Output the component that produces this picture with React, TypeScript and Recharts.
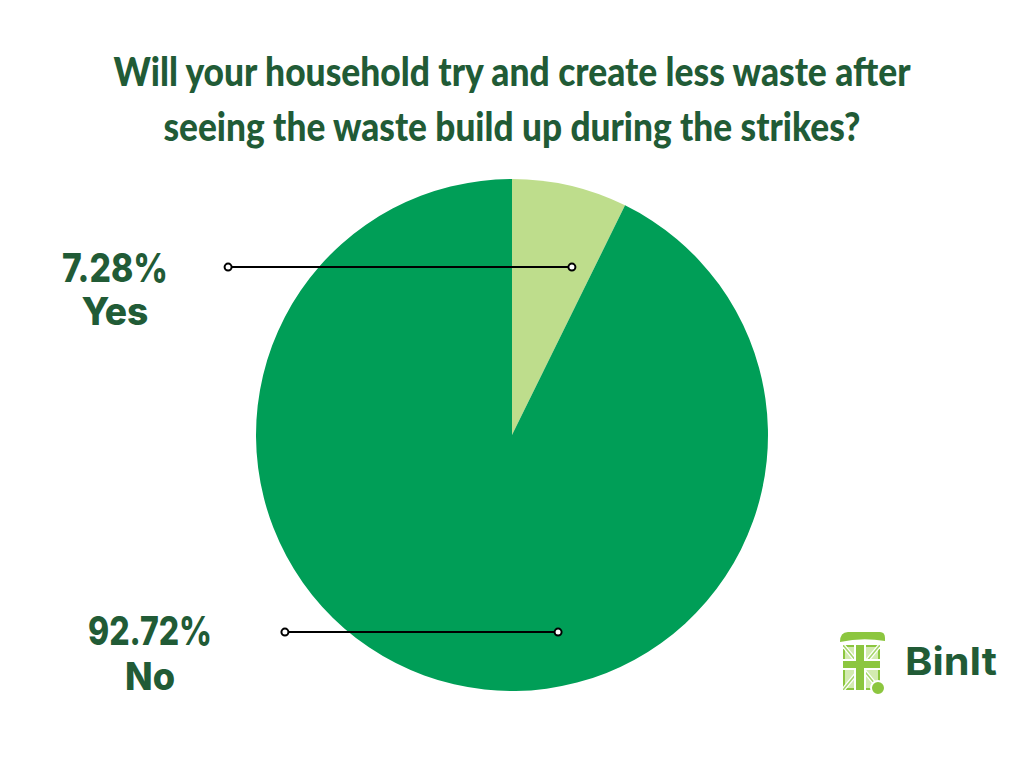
import React from 'react';
import { PieChart, Pie, Cell } from 'recharts';

const answers = ['Yes', 'No'];
const shares = [7.28, 92.72];
const sliceColors = ['#BEDD8C', '#009E57'];
const titleLines = [
  'Will your household try and create less waste after',
  'seeing the waste build up during the strikes?',
];

const TEXT_GREEN = '#215B36';
const LABEL_FONT = "Inter, 'Liberation Sans', Arial, sans-serif";

// where each callout sits, relative to pie centre in units of the radius
const callouts = [
  { tipX: 0.234, tipY: -0.656, startX: -1.109, textX: -1.551, pctW: 106, nameW: 67, base1: -153, base2: -110 },
  { tipX: 0.180, tipY: 0.770, startX: -0.887, textX: -1.414, pctW: 124, nameW: 50, base1: 210, base2: 255 },
];

const chartData = answers.map((name, i) => ({ name, value: shares[i] }));

const renderCallout = (props: any) => {
  const { cx, cy, outerRadius, index } = props;
  const c = callouts[index];
  const R = outerRadius;
  const y = cy + c.tipY * R;
  const x1 = cx + c.startX * R;
  const x2 = cx + c.tipX * R;
  const tx = cx + c.textX * R;
  return (
    <g key={`callout-${index}`}>
      <line x1={x1} y1={y} x2={x2} y2={y} stroke="#000" strokeWidth={2} />
      <circle cx={x1} cy={y} r={3.5} fill="#fff" stroke="#000" strokeWidth={2} />
      <circle cx={x2} cy={y} r={3.5} fill="#fff" stroke="#000" strokeWidth={2} />
      <text
        x={tx}
        y={cy + c.base1}
        textAnchor="middle"
        fill={TEXT_GREEN}
        fontFamily={LABEL_FONT}
        fontWeight={800}
        fontSize={39}
        textLength={c.pctW}
        lengthAdjust="spacingAndGlyphs"
      >
        {`${shares[index].toFixed(2)}%`}
      </text>
      <text
        x={tx}
        y={cy + c.base2}
        textAnchor="middle"
        fill={TEXT_GREEN}
        fontFamily={LABEL_FONT}
        fontWeight={800}
        fontSize={38}
        textLength={c.nameW}
        lengthAdjust="spacingAndGlyphs"
      >
        {answers[index]}
      </text>
    </g>
  );
};

function Logo() {
  return (
    <svg width={180} height={80} style={{ position: 'absolute', left: 830, top: 620 }}>
      <defs>
        <clipPath id="binBody">
          <rect x={13} y={25} width={37} height={45} />
        </clipPath>
      </defs>
      <path d="M10 22 Q10 12 18 12 L50 12 Q55 12 55 18 L55 21 Q32 17 10 22 Z" fill="#8CC63F" />
      <g clipPath="url(#binBody)">
        <rect x={13} y={25} width={37} height={45} fill="#8CC63F" />
        <rect x={15} y={27} width={33} height={41} fill="#D3EBB0" />
        <line x1={13} y1={25} x2={50} y2={70} stroke="#fff" strokeWidth={4} />
        <line x1={50} y1={25} x2={13} y2={70} stroke="#fff" strokeWidth={4} />
        <line x1={13} y1={25} x2={50} y2={70} stroke="#A6D66A" strokeWidth={1.5} />
        <line x1={50} y1={25} x2={13} y2={70} stroke="#A6D66A" strokeWidth={1.5} />
        <rect x={24} y={18} width={12} height={52} fill="#fff" />
        <rect x={13} y={39} width={37} height={11} fill="#fff" />
        <rect x={26} y={18} width={8} height={52} fill="#8CC63F" />
        <rect x={13} y={41} width={37} height={7} fill="#8CC63F" />
      </g>
      <circle cx={48} cy={68} r={7} fill="#8CC63F" stroke="#fff" strokeWidth={2} />
      <text
        x={75}
        y={55}
        fill={TEXT_GREEN}
        fontFamily={LABEL_FONT}
        fontWeight={700}
        fontSize={38}
        textLength={92}
        lengthAdjust="spacingAndGlyphs"
      >
        BinIt
      </text>
    </svg>
  );
}

export default function App() {
  return (
    <div style={{ position: 'fixed', left: 0, top: 0, width: 1024, height: 768, background: '#fff' }}>
      <svg width={1024} height={170} style={{ position: 'absolute', left: 0, top: 0 }}>
        {titleLines.map((line, i) => (
          <text
            key={i}
            x={512}
            y={86 + i * 55}
            textAnchor="middle"
            fill={TEXT_GREEN}
            fontFamily="Lato, sans-serif"
            fontWeight={900}
            fontSize={40}
            textLength={i === 0 ? 797 : 697}
            lengthAdjust="spacingAndGlyphs"
          >
            {line}
          </text>
        ))}
      </svg>
      <div style={{ position: 'absolute', left: 0, top: 0 }}>
        <PieChart width={1024} height={768} margin={{ top: 0, right: 0, bottom: 0, left: 0 }}>
          <Pie
            data={chartData}
            dataKey="value"
            nameKey="name"
            cx={512}
            cy={435}
            outerRadius={256}
            startAngle={90}
            endAngle={-270}
            stroke="none"
            label={renderCallout}
            labelLine={false}
            isAnimationActive={false}
          >
            {chartData.map((d, i) => (
              <Cell key={d.name} fill={sliceColors[i]} />
            ))}
          </Pie>
        </PieChart>
      </div>
      <Logo />
    </div>
  );
}
